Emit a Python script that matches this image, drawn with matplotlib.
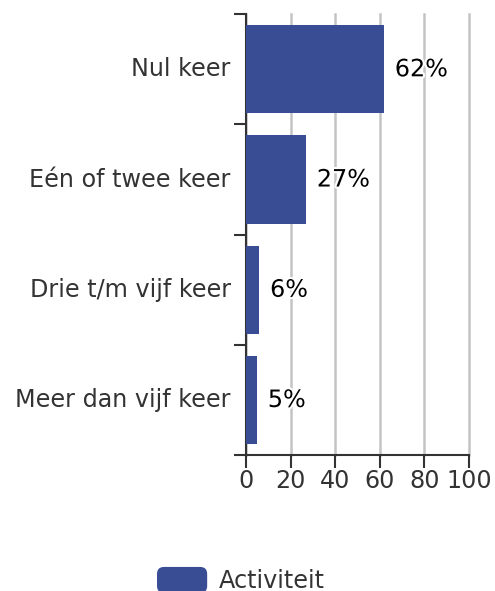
import matplotlib.pyplot as plt
import matplotlib.patheffects as pe
from matplotlib.patches import FancyBboxPatch, Patch
from matplotlib.legend_handler import HandlerPatch

categories = ["Nul keer", "Eén of twee keer", "Drie t/m vijf keer", "Meer dan vijf keer"]
values = [62, 27, 6, 5]
labels = ["62%", "27%", "6%", "5%"]
series_name = "Activiteit"
x_ticks = [0, 20, 40, 60, 80, 100]

BAR_COLOR = "#394d95"
TEXT_COLOR = "#333333"
FS = 17.2


class RoundedHandler(HandlerPatch):
    def create_artists(self, legend, orig_handle, xdescent, ydescent,
                       width, height, fontsize, trans):
        p = FancyBboxPatch((-xdescent, -ydescent), width, height,
                           boxstyle="round,pad=0,rounding_size=5",
                           facecolor=BAR_COLOR, edgecolor="none",
                           transform=trans)
        return [p]


fig = plt.figure(figsize=(4.95, 5.91), dpi=100)
ax = fig.add_axes([0.497, 0.230, 0.450, 0.746])

ypos = list(range(len(categories)))
ax.barh(ypos, values, height=0.8, color=BAR_COLOR, zorder=3)
ax.set_ylim(len(categories) - 0.5, -0.5)
ax.set_xlim(0, 100)

ax.set_xticks(x_ticks)
ax.set_xticklabels([str(t) for t in x_ticks])
ax.grid(axis="x", color="#c4c4c4", linewidth=1.8, zorder=0)
for gl in ax.get_xgridlines():
    gl.set_clip_on(False)
ax.set_axisbelow(True)

# category labels between boundary ticks
ax.set_yticks([y - 0.5 for y in range(len(categories) + 1)])
ax.set_yticklabels([])
ax.set_yticks(ypos, minor=True)
ax.set_yticklabels(categories, minor=True, va="center")
ax.tick_params(axis="y", which="minor", length=0, pad=11, labelsize=FS, labelcolor=TEXT_COLOR)
ax.tick_params(axis="y", which="major", length=9, width=1.5, color=TEXT_COLOR)
ax.tick_params(axis="x", length=9, width=1.5, color=TEXT_COLOR, labelsize=FS,
               labelcolor=TEXT_COLOR, pad=1)

for s in ["top", "right"]:
    ax.spines[s].set_visible(False)
for s in ["left", "bottom"]:
    ax.spines[s].set_color(TEXT_COLOR)
    ax.spines[s].set_linewidth(1.5)

for y, v, lab in zip(ypos, values, labels):
    ax.text(v + 4.8, y, lab, va="center", ha="left", fontsize=FS, color="black",
            zorder=4, path_effects=[pe.withStroke(linewidth=3, foreground="white")])

handle = Patch(color=BAR_COLOR)
fig.legend(handles=[handle], labels=[series_name], loc="upper center",
           bbox_to_anchor=(0.487, 0.069), frameon=False, fontsize=FS,
           handlelength=2.1, handleheight=1.3, handletextpad=0.5,
           labelcolor=TEXT_COLOR, borderpad=0.2,
           handler_map={Patch: RoundedHandler()})

fig.savefig("out.png", dpi=100)
